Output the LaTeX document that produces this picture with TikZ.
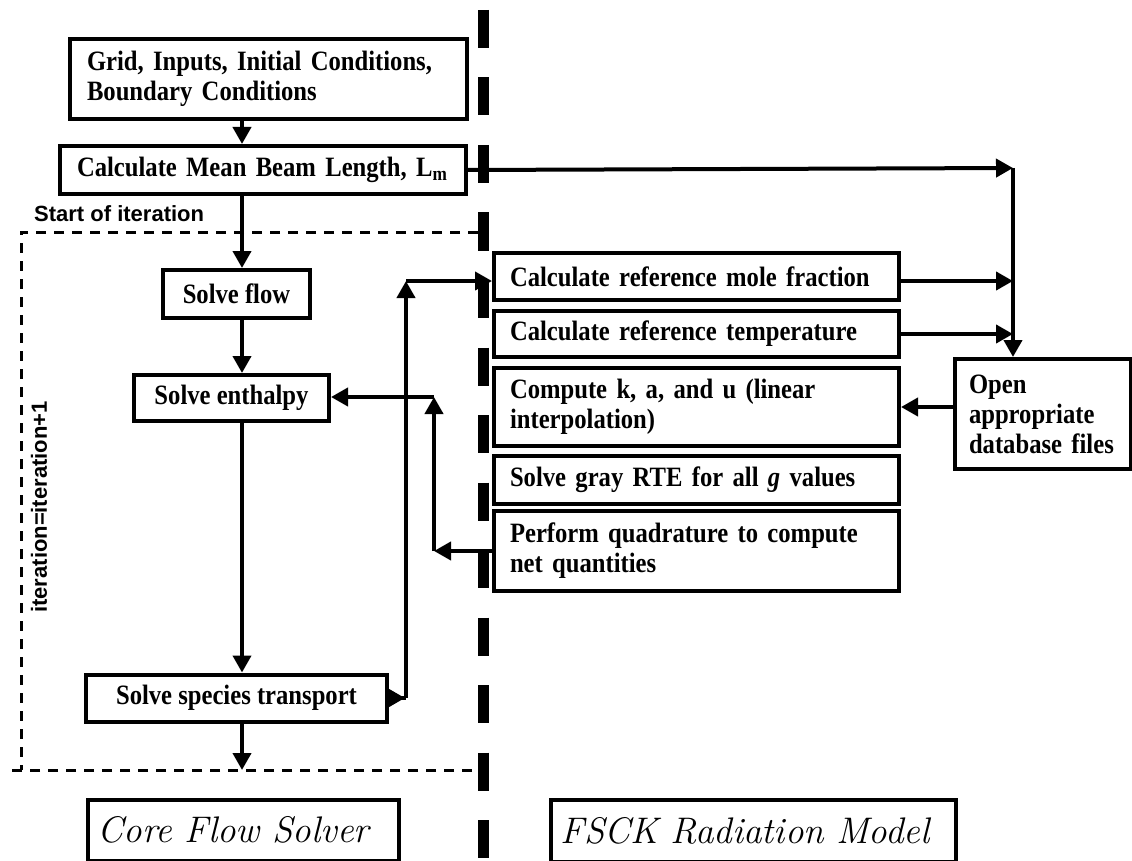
\documentclass[tikz,border=0pt]{standalone}
\usepackage{fontspec}
\newfontfamily\timesf{Liberation Serif}[FakeStretch=0.88]
\newfontfamily\arialf{Liberation Sans}
\usetikzlibrary{arrows.meta}
\tikzset{
  box/.style = {draw=black, line width=4pt, inner sep=0pt,
    font=\timesf\bfseries\fontsize{28}{30}\selectfont},% step box
  flowbox/.style = {box, align=center},% flow solver step
  radbox/.style = {box, anchor=north west, align=left,
    minimum width=405pt, text width=373pt},% radiation model step
  tagbox/.style = {draw=black, line width=3.5pt, inner sep=0pt,
    anchor=north west, align=left,
    font=\itshape\fontsize{37}{40}\selectfont},% titles
  sidetext/.style = {inner sep=0pt,
    font=\arialf\bfseries\fontsize{22}{26}\selectfont},
  conn/.style = {line width=4pt, -{Triangle[length=17pt,width=18pt]}},
  tail/.style = {line width=4pt, {Triangle[reversed,length=16pt,width=17pt]}-},
  itloop/.style = {line width=3pt, dash pattern=on 10pt off 8pt},% iteration loop
  divider/.style = {line width=11pt, dash pattern=on 38pt off 29.5pt}
}
\begin{document}
\begin{tikzpicture}[x=1pt,y=-1pt]
\useasboundingbox (0,0) rectangle (1132,861);
\draw[divider] (483,10) -- (483,861);
% core flow solver
\node[box, anchor=north west, align=left, minimum width=397pt,
  minimum height=80pt, text width=363pt] (grid) at (68,37)
  {Grid, Inputs, Initial Conditions,\\Boundary Conditions};
\node[box, anchor=north west, align=left, minimum width=406pt,
  minimum height=48pt, text width=372pt] (lm) at (58,144)
  {Calculate Mean Beam Length, L\textsubscript{m}};
\node[flowbox, minimum width=147pt, minimum height=48pt] (flow) at (236.5,294) {Solve flow};
\node[flowbox, minimum width=195pt, minimum height=46pt] (enth) at (231.5,398) {Solve enthalpy};
\node[flowbox, minimum width=301pt, minimum height=47pt] (spec) at (236.5,698) {Solve species transport};
% radiation model
\node[radbox, minimum height=47pt] (mole) at (492,251) {Calculate reference mole fraction};
\node[radbox, minimum height=46pt] (temp) at (492,309) {Calculate reference temperature};
\node[radbox, minimum height=78pt] (kau) at (492,366) {Compute k, a, and u (linear\\interpolation)};
\node[radbox, minimum height=48pt] (gray) at (492,454) {Solve gray RTE for all {\itshape g} values};
\node[radbox, minimum height=80pt] (quad) at (492,509) {Perform quadrature to compute\\net quantities};
\node[box, anchor=north west, align=left, minimum width=176pt,
  minimum height=110pt, text width=148pt] (dbase) at (953,357)
  {Open\\appropriate\\database files};
% titles
\node[tagbox, minimum width=311pt, minimum height=61pt, text width=291pt] (core) at (86,798) {Core Flow Solver};
\node[tagbox, minimum width=405pt, minimum height=62pt, text width=385pt] (fsck) at (549,798) {FSCK Radiation Model};
\node[sidetext, anchor=west] (start) at (34,214) {Start of iteration};
\node[sidetext, rotate=90] (iter) at (39,507) {iteration=iteration+1};
% iteration loop
\coordinate (lpne) at (478,232);
\coordinate (lpnw) at (21,232);
\coordinate (lpsw) at (21,770);
\coordinate (lpse) at (472,770);
\coordinate (lpend) at (10,770);
\draw[itloop] (lpne) -- (lpnw) -- (lpsw);
\draw[itloop] (lpse) -- (lpend);
% main column
\coordinate (col) at (242,0);
\draw[conn] (grid.south -| col) -- (lm.north -| col);
\draw[conn] (lm.south -| col) -- (flow.north -| col);
\draw[conn] (flow.south -| col) -- (enth.north -| col);
\draw[conn] (enth.south -| col) -- (spec.north -| col);
\draw[conn] (spec.south -| col) -- (col |- lpse);
% links between the two codes
\coordinate (bus) at (1013,168);
\coordinate (up) at (406,281);
\coordinate (back) at (434,397);
\draw[conn] (lm.east) -- (bus);
\draw[conn] (mole.east |- up) -- (up -| bus);
\draw[conn] (temp.east) -- (temp.east -| bus);
\draw[conn] (bus) -- (bus |- dbase.north);
\draw[conn] (dbase.west |- kau.east) -- (kau.east);
\draw[tail] (spec.east) -- (spec.east -| up);
\draw[conn] (spec.east -| up) -- (up);
\draw[conn] (up) -- (up -| mole.west);
\draw[conn] (quad.west) -- (quad.west -| back);
\draw[conn] (quad.west -| back) -- (back);
\draw[conn] (back) -- (back -| enth.east);
\end{tikzpicture}
\end{document}
